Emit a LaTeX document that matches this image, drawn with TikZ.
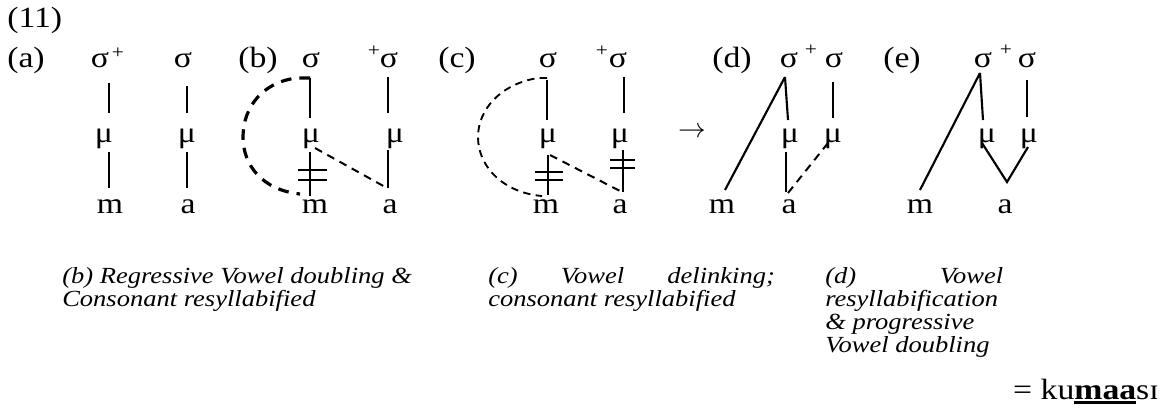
\documentclass[tikz,border=0pt]{standalone}
\usepackage{fontspec}
\setmainfont{Liberation Serif}[FakeStretch=1.15]
\newcommand\thickul[1]{\setbox0\hbox{#1}\rlap{\rule[-3.4pt]{\wd0}{2pt}}\box0}
\begin{document}
\begin{tikzpicture}[x=0.75pt,y=-0.75pt,
  lbl/.style={inner sep=0pt, anchor=base west, font=\fontsize{22}{26}\selectfont},
  sym/.style={inner sep=0pt, anchor=base, font=\fontsize{22}{26}\selectfont},
  supl/.style={inner sep=0pt, anchor=center, font=\fontsize{14}{16}\selectfont},
  captxt/.style={inner sep=0pt, anchor=base west, font=\fontsize{17.3}{17.3}\selectfont\itshape},
  assoc/.style={line width=1.6pt},
  bar/.style={line width=1.6pt},
  dline/.style={line width=1.5pt, dash pattern=on 6pt off 4.5pt},
  arcb/.style={line width=2.4pt, dash pattern=on 8pt off 6pt},
  arcc/.style={line width=1.4pt, dash pattern=on 5.5pt off 4pt}]
\useasboundingbox (0,0) rectangle (1165,419);

% labels
\node[lbl] (n11) at (7,27) {(11)};
\node[lbl] (la) at (7,67) {(a)};
\node[lbl] (lb) at (238,67) {(b)};
\node[lbl] (lc) at (438,67) {(c)};
\node[lbl] (ld) at (712,67) {(d)};
\node[lbl] (le) at (883,67) {(e)};

% (a)
\node[sym] (as1) at (100,67) {σ};
\node[supl] (ap1) at (118,53) {+};
\node[sym] (as2) at (183,67) {σ};
\node[sym] (au1) at (104,142) {μ};
\node[sym] (au2) at (187,142) {μ};
\node[sym] (am) at (110,213) {m};
\node[sym] (aa) at (188,213) {a};
\draw[assoc] (109,83) -- (109,113);
\draw[assoc] (109,152) -- (109,188);
\draw[assoc] (187,86) -- (187,113);
\draw[assoc] (187,152) -- (187,188);

% (b)
\node[sym] (bs1) at (311,67) {σ};
\node[supl] (bp2) at (374,51) {+};
\node[sym] (bs2) at (389,67) {σ};
\node[sym] (bu1) at (311,142) {μ};
\node[sym] (bu2) at (395,142) {μ};
\node[sym] (bm) at (315,213) {m};
\node[sym] (ba) at (390,213) {a};
\draw[assoc] (310,78) -- (310,118);
\draw[assoc] (310,152) -- (310,196);
\draw[bar] (298,170) -- (327,170);
\draw[bar] (298,180) -- (327,180);
\draw[assoc] (388,77) -- (388,113);
\draw[assoc] (388,150) -- (388,188);
\draw[dline] (315,148) -- (387,188);
\draw[arcb] (310,78) -- (297,78) .. controls (262,82) and (243,108) .. (243,137)
  .. controls (243,165) and (262,190) .. (300,194);

% (c)
\node[sym] (cs1) at (548,67) {σ};
\node[supl] (cp2) at (602,51) {+};
\node[sym] (cs2) at (618,67) {σ};
\node[sym] (cu1) at (548,142) {μ};
\node[sym] (cu2) at (620,142) {μ};
\node[sym] (cm) at (546,213) {m};
\node[sym] (ca) at (620,213) {a};
\draw[assoc] (547,80) -- (547,120);
\draw[assoc] (624,77) -- (624,113);
\draw[assoc] (548,155) -- (548,195);
\draw[bar] (535,172) -- (563,172);
\draw[bar] (535,180) -- (563,180);
\draw[assoc] (623,150) -- (623,192);
\draw[bar] (610,160) -- (635,160);
\draw[bar] (610,168) -- (635,168);
\draw[dline] (550,155) -- (622,192);
\draw[arcc] (547,78) -- (538,78) .. controls (500,84) and (478,110) .. (478,137)
  .. controls (478,168) and (505,193) .. (542,196);

% arrow
\node[sym] (arr) at (692,137) {$\rightarrow$};

% (d)
\node[sym] (ds1) at (789,67) {σ};
\node[supl] (dp1) at (811,50) {+};
\node[sym] (ds2) at (834,67) {σ};
\node[sym] (du1) at (790,142) {μ};
\node[sym] (du2) at (833,142) {μ};
\node[sym] (dm) at (722,213) {m};
\node[sym] (da) at (789,213) {a};
\draw[assoc] (785,77) -- (725,190);
\draw[assoc] (785,77) -- (788,120);
\draw[assoc] (833,82) -- (833,118);
\draw[assoc] (786,152) -- (786,192);
\draw[dline] (828,143) -- (788,193);

% (e)
\node[sym] (es1) at (983,67) {σ};
\node[supl] (ep1) at (1006,50) {+};
\node[sym] (es2) at (1027,67) {σ};
\node[sym] (eu1) at (987,142) {μ};
\node[sym] (eu2) at (1029,142) {μ};
\node[sym] (em) at (920,213) {m};
\node[sym] (ea) at (1005,213) {a};
\draw[assoc] (980,73) -- (920,190);
\draw[assoc] (980,73) -- (983,120);
\draw[assoc] (1027,80) -- (1027,117);
\draw[assoc] (982,143) -- (1007,182) -- (1028,147);

% captions
\node[captxt] (cb1) at (62,283) {(b) Regressive Vowel doubling \&};
\node[captxt] (cb2) at (62,306) {Consonant resyllabified};
\node[captxt] (cc1) at (488,283) {\makebox[215pt][s]{(c) Vowel delinking;}};
\node[captxt] (cc2) at (488,306) {consonant resyllabified};
\node[captxt] (cd1) at (825,283) {\makebox[133.5pt][s]{(d) Vowel}};
\node[captxt] (cd2) at (825,306) {resyllabification};
\node[captxt] (cd3) at (825,329) {\& progressive};
\node[captxt] (cd4) at (825,352) {Vowel doubling};

% result
\node[lbl, anchor=base east] (res) at (1159,399) {= ku\thickul{\textbf{maa}}sɪ};
\end{tikzpicture}
\end{document}
